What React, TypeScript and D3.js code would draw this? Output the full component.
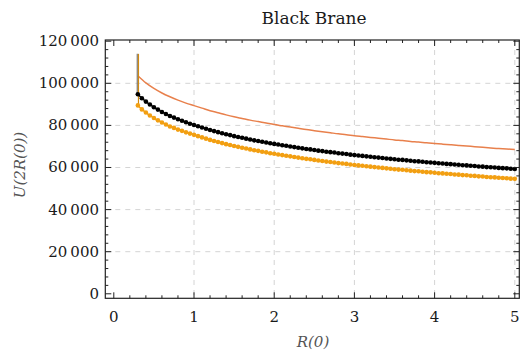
import React from "react";
import * as d3 from "d3";

const title = "Black Brane";
const xLabel = "R(0)";
const yLabel = "U(2R(0))";
const xTicks = [0, 1, 2, 3, 4, 5];
const yTicks = [0, 20000, 40000, 60000, 80000, 100000, 120000];

// dotted series x positions (0.30 .. 5.00 step 0.05)
const dotX = [
  0.3, 0.35, 0.4, 0.45, 0.5, 0.55, 0.6, 0.65, 0.7, 0.75, 0.8, 0.85, 0.9, 0.95,
  1.0, 1.05, 1.1, 1.15, 1.2, 1.25, 1.3, 1.35, 1.4, 1.45, 1.5, 1.55, 1.6, 1.65, 1.7, 1.75, 1.8, 1.85, 1.9, 1.95,
  2.0, 2.05, 2.1, 2.15, 2.2, 2.25, 2.3, 2.35, 2.4, 2.45, 2.5, 2.55, 2.6, 2.65, 2.7, 2.75, 2.8, 2.85, 2.9, 2.95,
  3.0, 3.05, 3.1, 3.15, 3.2, 3.25, 3.3, 3.35, 3.4, 3.45, 3.5, 3.55, 3.6, 3.65, 3.7, 3.75, 3.8, 3.85, 3.9, 3.95,
  4.0, 4.05, 4.1, 4.15, 4.2, 4.25, 4.3, 4.35, 4.4, 4.45, 4.5, 4.55, 4.6, 4.65, 4.7, 4.75, 4.8, 4.85, 4.9, 4.95,
  5.0,
];

const blackDots = [
  94800, 92900, 91300, 89900, 88600, 87500, 86400, 85400, 84500, 83700, 82900, 82200, 81500, 80800,
  80200, 79600, 79000, 78400, 77800, 77300, 76800, 76300, 75800, 75400, 74900, 74500, 74100, 73700, 73300, 72900, 72600, 72200, 71900, 71500,
  71200, 70900, 70600, 70300, 70000, 69700, 69400, 69100, 68800, 68600, 68300, 68000, 67800, 67500, 67300, 67100, 66800, 66600, 66400, 66100,
  65900, 65700, 65500, 65300, 65100, 64900, 64700, 64500, 64300, 64100, 63900, 63700, 63600, 63400, 63200, 63000, 62900, 62700, 62500, 62400,
  62200, 62000, 61900, 61700, 61600, 61400, 61300, 61100, 61000, 60800, 60700, 60500, 60400, 60200, 60100, 60000, 59800, 59700, 59600, 59400,
  59300,
];

const orangeDots = [
  89500, 87600, 86100, 84700, 83500, 82400, 81400, 80400, 79500, 78800, 78000, 77400, 76700, 76100,
  75500, 74900, 74300, 73700, 73100, 72600, 72100, 71600, 71100, 70700, 70200, 69800, 69400, 69000, 68600, 68200, 67900, 67500, 67200, 66800,
  66500, 66200, 65900, 65600, 65300, 65000, 64700, 64400, 64100, 63900, 63600, 63300, 63100, 62800, 62600, 62400, 62100, 61900, 61700, 61400,
  61200, 61000, 60800, 60600, 60400, 60200, 60000, 59800, 59600, 59400, 59200, 59000, 58900, 58700, 58500, 58300, 58200, 58000, 57800, 57700,
  57500, 57300, 57200, 57000, 56900, 56700, 56600, 56400, 56300, 56100, 56000, 55800, 55700, 55500, 55400, 55300, 55100, 55000, 54900, 54700,
  54600,
];

// smooth orange line (0.3 .. 5.0 step 0.1)
const lineX = [
  0.3, 0.4, 0.5, 0.6, 0.7, 0.8, 0.9, 1.0, 1.1, 1.2, 1.3, 1.4, 1.5, 1.6, 1.7, 1.8, 1.9, 2.0,
  2.1, 2.2, 2.3, 2.4, 2.5, 2.6, 2.7, 2.8, 2.9, 3.0, 3.1, 3.2, 3.3, 3.4, 3.5, 3.6, 3.7, 3.8, 3.9, 4.0,
  4.1, 4.2, 4.3, 4.4, 4.5, 4.6, 4.7, 4.8, 4.9, 5.0,
];
const lineY = [
  103600, 100200, 97600, 95400, 93600, 92000, 90600, 89400, 88200, 87000, 86000, 85000, 84100, 83300, 82500, 81800, 81100, 80400,
  79800, 79200, 78600, 78000, 77500, 77000, 76500, 76000, 75600, 75100, 74700, 74300, 73900, 73500, 73100, 72800, 72400, 72100, 71700, 71400,
  71100, 70800, 70500, 70200, 69900, 69600, 69300, 69000, 68800, 68500,
];

// vertical spike at the start
const spikeX = 0.3;
const spikeTop = 114000;

const W = 521;
const H = 353;
const L = 105.3;
const R = 519.3;
const T = 40;
const B = 298.3;

export default function App() {
  const x = d3.scaleLinear().domain([-0.106, 5.056]).range([L, R]);
  const y = d3.scaleLinear().domain([-2140, 120570]).range([B, T]);

  const xMinor = d3.range(0, 5.01, 0.2).filter((v) => Math.abs(v - Math.round(v)) > 1e-6);
  const yMinor = d3.range(0, 120001, 4000).filter((v) => v % 20000 !== 0);

  const lineGen = d3
    .line<[number, number]>()
    .x((d) => x(d[0]))
    .y((d) => y(d[1]))
    .curve(d3.curveMonotoneX);

  const blackPts: [number, number][] = dotX.map((v, i) => [v, blackDots[i]]);
  const orangePts: [number, number][] = dotX.map((v, i) => [v, orangeDots[i]]);
  const linePts: [number, number][] = lineX.map((v, i) => [v, lineY[i]]);

  const fmt = (v: number) => {
    if (v === 0) return "0";
    const s = String(v);
    return s.slice(0, s.length - 3) + "\u2009" + s.slice(s.length - 3);
  };

  const gridColor = "#d4d4d4";
  const frameColor = "#222";
  const font = "DejaVu Serif";

  return (
    <svg
      width={W}
      height={H}
      style={{ position: "absolute", left: 0, top: 0, background: "#fff" }}
      fontFamily={font}
    >
      <rect x={0} y={0} width={W} height={H} fill="#fff" />
      {/* grid */}
      {xTicks
        .filter((v) => v > 0)
        .map((v) => (
          <line key={"gx" + v} x1={x(v)} x2={x(v)} y1={T} y2={B} stroke={gridColor} strokeWidth={1} strokeDasharray="5,5" />
        ))}
      {yTicks
        .filter((v) => v > 0 && v < 120000)
        .map((v) => (
          <line key={"gy" + v} x1={L} x2={R} y1={y(v)} y2={y(v)} stroke={gridColor} strokeWidth={1} strokeDasharray="5,5" />
        ))}

      {/* orange line */}
      <path d={lineGen(linePts) || ""} fill="none" stroke="#E8804C" strokeWidth={1.5} />

      {/* spike */}
      <line x1={x(spikeX) - 0.6} x2={x(spikeX) - 0.6} y1={y(spikeTop)} y2={y(blackDots[0])} stroke="#7a7a7a" strokeWidth={1.2} />
      <line x1={x(spikeX) + 0.6} x2={x(spikeX) + 0.6} y1={y(spikeTop)} y2={y(orangeDots[0])} stroke="#D08A10" strokeWidth={1.2} />

      {/* orange dots */}
      <path d={lineGen(orangePts) || ""} fill="none" stroke="#F29F12" strokeWidth={1.5} />
      {orangePts.map((p, i) => (
        <circle key={"o" + i} cx={x(p[0])} cy={y(p[1])} r={2.3} fill="#F29F12" />
      ))}

      {/* black dots */}
      <path d={lineGen(blackPts) || ""} fill="none" stroke="#000" strokeWidth={1.5} />
      {blackPts.map((p, i) => (
        <circle key={"b" + i} cx={x(p[0])} cy={y(p[1])} r={2.3} fill="#000" />
      ))}

      {/* frame */}
      <rect x={L} y={T} width={R - L} height={B - T} fill="none" stroke={frameColor} strokeWidth={1.2} />

      {/* x ticks */}
      {xTicks.map((v) => (
        <g key={"xt" + v}>
          <line x1={x(v)} x2={x(v)} y1={B} y2={B - 6} stroke={frameColor} />
          <line x1={x(v)} x2={x(v)} y1={T} y2={T + 6} stroke={frameColor} />
          <text x={x(v)} y={322} textAnchor="middle" fontSize={15} fill="#1a1a1a">
            {v}
          </text>
        </g>
      ))}
      {xMinor.map((v) => (
        <g key={"xm" + v}>
          <line x1={x(v)} x2={x(v)} y1={B} y2={B - 3} stroke={frameColor} />
          <line x1={x(v)} x2={x(v)} y1={T} y2={T + 3} stroke={frameColor} />
        </g>
      ))}

      {/* y ticks */}
      {yTicks.map((v) => (
        <g key={"yt" + v}>
          <line x1={L} x2={L + 6} y1={y(v)} y2={y(v)} stroke={frameColor} />
          <line x1={R} x2={R - 6} y1={y(v)} y2={y(v)} stroke={frameColor} />
          <text x={99} y={y(v) + 5} textAnchor="end" fontSize={15} fill="#1a1a1a">
            {fmt(v)}
          </text>
        </g>
      ))}
      {yMinor.map((v) => (
        <g key={"ym" + v}>
          <line x1={L} x2={L + 3} y1={y(v)} y2={y(v)} stroke={frameColor} />
          <line x1={R} x2={R - 3} y1={y(v)} y2={y(v)} stroke={frameColor} />
        </g>
      ))}

      {/* title */}
      <text x={314} y={24} textAnchor="middle" fontSize={17} fill="#1a1a1a">
        {title}
      </text>

      {/* axis labels */}
      <text x={313} y={347} textAnchor="middle" fontSize={15} fontStyle="italic" fill="#555">
        {xLabel}
      </text>
      <text
        transform={`translate(25,165) rotate(-90)`}
        textAnchor="middle"
        fontSize={15}
        fontStyle="italic"
        fill="#555"
      >
        {yLabel}
      </text>
    </svg>
  );
}
